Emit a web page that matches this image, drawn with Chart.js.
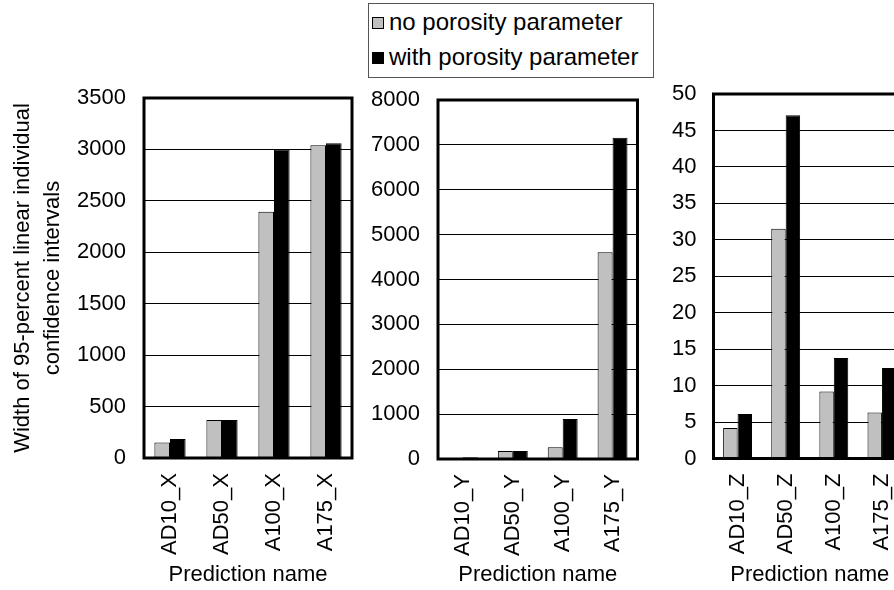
<!DOCTYPE html>
<html>
<head>
<meta charset="utf-8">
<script src="https://cdn.jsdelivr.net/npm/chart.js@4.4.0/dist/chart.umd.min.js"></script>
<style>
  html, body { margin: 0; padding: 0; background: #fff; }
  body { width: 894px; height: 590px; overflow: hidden; position: relative;
         font-family: "Liberation Sans", Arial, sans-serif; }
  canvas { position: absolute; top: 0; }
  #legend { position: absolute; left: 368px; top: 3px; width: 286px; height: 75px;
            border: 1px solid #555; box-sizing: border-box; background: #fff; }
  #legend .row { position: absolute; left: 0; height: 30px; line-height: 30px;
                 font-size: 24px; color: #000; white-space: nowrap; }
  #legend .sw { position: absolute; left: 3px; top: 10px; width: 10px; height: 10px;
                border: 1px solid #000; }
  #legend .txt { position: absolute; left: 20px; top: 0; }
</style>
</head>
<body>
<canvas id="panelX" width="380" height="590" style="left:0px"></canvas>
<canvas id="panelY" width="310" height="590" style="left:360px"></canvas>
<canvas id="panelZ" width="300" height="590" style="left:650px"></canvas>
<div id="legend"></div>
<script>
// Series names
const seriesNames = ['no porosity parameter', 'with porosity parameter'];

// X-direction predictions
const categoriesX = ['AD10_X', 'AD50_X', 'A100_X', 'A175_X'];
const noPorosityX = [150, 370, 2395, 3040];
const withPorosityX = [185, 370, 3000, 3060];
const yMaxX = 3500, yStepX = 500;

// Y-direction predictions
const categoriesY = ['AD10_Y', 'AD50_Y', 'A100_Y', 'A175_Y'];
const noPorosityY = [8, 180, 260, 4610];
const withPorosityY = [40, 180, 890, 7160];
const yMaxY = 8000, yStepY = 1000;

// Z-direction predictions
const categoriesZ = ['AD10_Z', 'AD50_Z', 'A100_Z', 'A175_Z'];
const noPorosityZ = [4.2, 31.5, 9.2, 6.3];
const withPorosityZ = [6.1, 47.1, 13.8, 12.4];
const yMaxZ = 50, yStepZ = 5;

const yTitleLines = ['Width of 95-percent linear individual', 'confidence intervals'];
const xTitle = 'Prediction name';

const FONT = '"Liberation Sans", Arial, sans-serif';
const seriesColors = ['#c0c0c0', '#000000'];

// Thick box around each plot area
const plotFrame = {
  id: 'plotFrame',
  afterDatasetsDraw(chart) {
    const { ctx, chartArea: a } = chart;
    ctx.save();
    ctx.strokeStyle = '#000';
    ctx.lineWidth = 3;
    ctx.strokeRect(a.left, a.top, a.right - a.left, a.bottom - a.top);
    ctx.restore();
  }
};

function makePanel(id, canvasLeft, box, labels, grey, black, yMax, yStep, tickPad, withYTitle) {
  const canvas = document.getElementById(id);
  const W = canvas.width, H = canvas.height;
  const yWidth = box.left - canvasLeft;
  const xHeight = H - box.bottom;
  return new Chart(canvas, {
    type: 'bar',
    data: {
      labels: labels,
      datasets: [
        { label: seriesNames[0], data: grey, backgroundColor: seriesColors[0],
          borderColor: '#000', borderWidth: 1, borderSkipped: 'bottom' },
        { label: seriesNames[1], data: black, backgroundColor: seriesColors[1],
          borderColor: '#000', borderWidth: 1, borderSkipped: 'bottom' }
      ]
    },
    options: {
      responsive: false,
      animation: false,
      devicePixelRatio: 1,
      categoryPercentage: 0.6,
      barPercentage: 1.0,
      layout: { padding: { left: 0, top: box.top, right: W - (box.right - canvasLeft), bottom: 0 } },
      plugins: { legend: { display: false }, tooltip: { enabled: false }, title: { display: false } },
      scales: {
        x: {
          grid: { display: false, drawTicks: false },
          border: { display: false },
          ticks: { color: '#000', font: { family: FONT, size: 22 }, padding: 15,
                   maxRotation: 90, minRotation: 90, autoSkip: false },
          title: { display: true, text: xTitle, color: '#000',
                   font: { family: FONT, size: 22 }, padding: { top: 0, bottom: 2 } },
          afterFit(scale) { scale.height = xHeight; }
        },
        y: {
          min: 0, max: yMax,
          grid: { color: '#000', lineWidth: 1, drawTicks: false },
          border: { display: false },
          ticks: { stepSize: yStep, color: '#000', font: { family: FONT, size: 22 }, padding: tickPad,
                   callback: (v) => String(v) },
          title: { display: withYTitle, text: yTitleLines, color: '#000',
                   font: { family: FONT, size: 22, lineHeight: 1.36 }, padding: { top: 8, bottom: 0 } },
          afterFit(scale) { scale.width = yWidth; }
        }
      }
    },
    plugins: [plotFrame]
  });
}

makePanel('panelX', 0, { left: 144, top: 98, right: 352, bottom: 458 },
          categoriesX, noPorosityX, withPorosityX, yMaxX, yStepX, 18, true);
makePanel('panelY', 360, { left: 438, top: 100, right: 637.5, bottom: 459 },
          categoriesY, noPorosityY, withPorosityY, yMaxY, yStepY, 18, false);
makePanel('panelZ', 650, { left: 713.5, top: 94, right: 906, bottom: 458.5 },
          categoriesZ, noPorosityZ, withPorosityZ, yMaxZ, yStepZ, 17, false);

// Legend built from the series names
const legend = document.getElementById('legend');
const rowTops = [3, 38];
seriesNames.forEach((name, i) => {
  const row = document.createElement('div');
  row.className = 'row';
  row.style.top = rowTops[i] + 'px';
  const sw = document.createElement('span');
  sw.className = 'sw';
  sw.style.background = seriesColors[i];
  const txt = document.createElement('span');
  txt.className = 'txt';
  txt.textContent = name;
  row.appendChild(sw);
  row.appendChild(txt);
  legend.appendChild(row);
});
</script>
</body>
</html>
